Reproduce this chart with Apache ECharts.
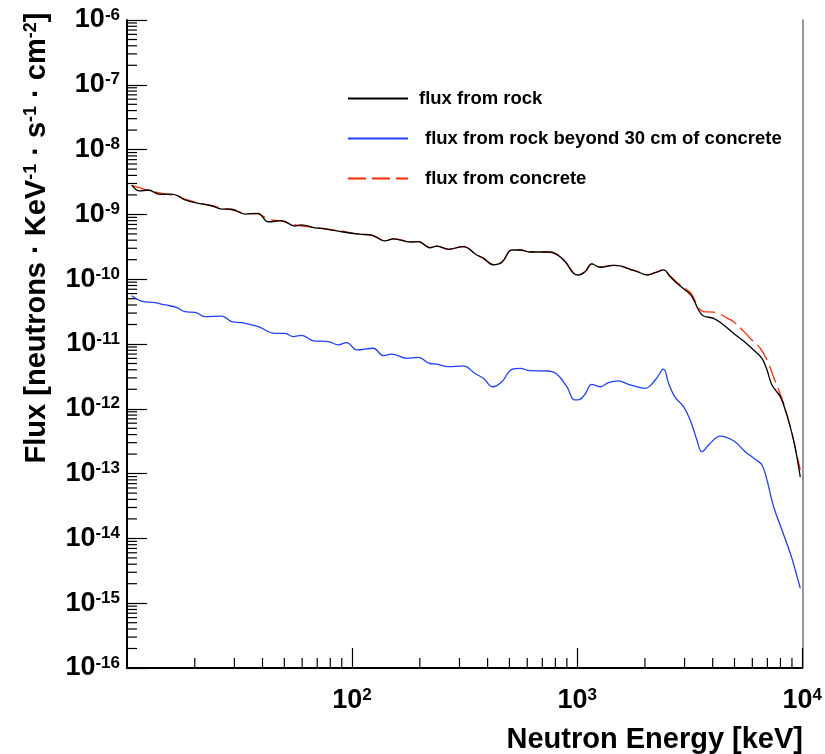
<!DOCTYPE html>
<html>
<head>
<meta charset="utf-8">
<script src="https://cdn.jsdelivr.net/npm/echarts@6/dist/echarts.min.js"></script>
<style>
  html, body { margin: 0; padding: 0; background: #fff; }
  #chart { width: 825px; height: 754px; }
</style>
</head>
<body>
<div id="chart"></div>
<script>
// [energy keV, flux]
const rockFlux = [
  [10.5, 2.84e-9], [11.4, 2.30e-9], [12.4, 2.38e-9], [14.0, 2.04e-9], [15.8, 2.06e-9],
  [16.9, 1.92e-9], [18.1, 1.67e-9], [20.8, 1.48e-9], [23.8, 1.36e-9], [26.4, 1.21e-9],
  [29.2, 1.20e-9], [33.5, 1.01e-9], [38.1, 1.04e-9], [42.5, 7.7e-10], [48.7, 8.0e-10],
  [55.8, 6.6e-10], [59.8, 6.9e-10], [68.5, 6.2e-10], [75.9, 6.0e-10], [90, 5.4e-10],
  [108, 4.95e-10], [122, 4.8e-10], [140, 3.9e-10], [153, 4.2e-10], [181, 3.75e-10],
  [197, 3.8e-10], [222, 3.06e-10], [238, 3.25e-10], [268, 2.89e-10], [312, 3.18e-10],
  [358, 2.36e-10], [383, 2.10e-10], [425, 1.66e-10], [463, 1.82e-10], [513, 2.82e-10],
  [558, 2.82e-10], [618, 2.63e-10], [745, 2.63e-10], [812, 2.42e-10], [885, 1.86e-10],
  [963, 1.23e-10], [1013, 1.16e-10], [1085, 1.31e-10], [1162, 1.72e-10], [1265, 1.53e-10],
  [1450, 1.64e-10], [1553, 1.60e-10], [1720, 1.42e-10], [1842, 1.32e-10], [2041, 1.17e-10],
  [2222, 1.26e-10], [2419, 1.39e-10], [2591, 1.09e-10], [2774, 8.65e-11], [3020, 6.8e-11],
  [3235, 5.4e-11], [3460, 3.35e-11], [3642, 2.71e-11], [4035, 2.49e-11], [4470, 1.97e-11],
  [4951, 1.46e-11], [5485, 1.11e-11], [6075, 8.1e-12], [6621, 6.0e-12], [6968, 4.0e-12],
  [7334, 2.33e-12], [7985, 1.54e-12], [8403, 9.6e-13], [9148, 3.3e-13], [9800, 8.8e-14]
]

const shieldedFlux = [
  [10.5, 5.56e-11], [11.6, 4.6e-11], [13.3, 4.34e-11], [14.8, 4.0e-11], [16.6, 3.68e-11],
  [18.1, 3.15e-11], [20.1, 3.08e-11], [22.2, 2.64e-11], [26.4, 2.70e-11], [29.2, 2.21e-11],
  [32.4, 2.13e-11], [38.3, 1.85e-11], [45.5, 1.46e-11], [50.4, 1.46e-11], [54.8, 1.30e-11],
  [59.8, 1.36e-11], [67.3, 1.12e-11], [78.5, 1.09e-11], [86.9, 9.7e-12], [94.7, 1.05e-11],
  [104.9, 8.1e-12], [124, 8.6e-12], [138, 6.6e-12], [150, 7.0e-12], [175, 6.0e-12],
  [197, 6.2e-12], [222, 5.0e-12], [238, 4.9e-12], [268, 4.46e-12], [312, 4.6e-12],
  [352, 3.5e-12], [383, 2.96e-12], [422, 2.19e-12], [463, 2.62e-12], [513, 4.07e-12],
  [558, 4.22e-12], [618, 3.87e-12], [745, 3.83e-12], [812, 3.44e-12], [900, 2.19e-12],
  [975, 1.37e-12], [1030, 1.40e-12], [1085, 1.69e-12], [1162, 2.39e-12], [1265, 2.19e-12],
  [1378, 2.53e-12], [1526, 2.69e-12], [1690, 2.39e-12], [2005, 2.07e-12], [2222, 2.78e-12],
  [2419, 4.1e-12], [2546, 2.48e-12], [2726, 1.50e-12], [2968, 1.08e-12], [3178, 6.7e-13],
  [3404, 3.3e-13], [3584, 2.18e-13], [3900, 2.94e-13], [4321, 3.8e-13], [4951, 3.22e-13],
  [5580, 2.18e-13], [6182, 1.66e-13], [6621, 1.36e-13], [6968, 8.0e-14], [7455, 3.1e-14],
  [8124, 1.35e-14], [8845, 5.9e-15], [9310, 3.25e-15], [9800, 1.7e-15]
]

const concreteFlux = [
  [10.5, 2.8e-9], [12.4, 2.35e-9], [14.5, 2.1e-9], [16.9, 1.9e-9], [18.1, 1.72e-9],
  [20.8, 1.5e-9], [23.8, 1.36e-9], [26.4, 1.24e-9], [29.2, 1.18e-9], [33.5, 1.04e-9],
  [38.1, 1.02e-9], [42.5, 8.4e-10], [48.7, 7.9e-10], [55.8, 6.9e-10], [68.5, 6.3e-10],
  [90, 5.5e-10], [108, 4.95e-10], [122, 4.8e-10], [140, 3.95e-10], [153, 4.2e-10],
  [181, 3.8e-10], [197, 3.8e-10], [222, 3.1e-10], [238, 3.25e-10], [268, 2.92e-10],
  [312, 3.18e-10], [358, 2.38e-10], [383, 2.12e-10], [425, 1.68e-10], [463, 1.82e-10],
  [513, 2.82e-10], [558, 2.82e-10], [618, 2.63e-10], [745, 2.63e-10], [812, 2.42e-10],
  [885, 1.88e-10], [963, 1.26e-10], [1013, 1.18e-10], [1085, 1.31e-10], [1162, 1.72e-10],
  [1265, 1.55e-10], [1450, 1.64e-10], [1553, 1.60e-10], [1720, 1.42e-10], [1842, 1.32e-10],
  [2041, 1.17e-10], [2222, 1.26e-10], [2419, 1.39e-10], [2591, 1.12e-10], [2774, 9.0e-11],
  [3020, 7.2e-11], [3235, 5.8e-11], [3460, 3.6e-11], [3642, 3.15e-11], [4035, 3.1e-11],
  [4300, 2.9e-11], [4548, 2.61e-11], [4951, 2.21e-11], [5485, 1.58e-11], [5976, 1.15e-11],
  [6506, 8.6e-12], [6968, 5.7e-12], [7455, 3.1e-12], [8259, 1.22e-12], [8845, 5.3e-13],
  [9800, 1.14e-13]
]

const seriesNames = ['flux from rock', 'flux from rock beyond 30 cm of concrete', 'flux from concrete']
const xMinorTicks = [20, 30, 40, 50, 60, 70, 80, 90, 200, 300, 400, 500, 600, 700, 800, 900,
  2000, 3000, 4000, 5000, 6000, 7000, 8000, 9000]
const yDecades = [-16, -15, -14, -13, -12, -11, -10, -9, -8, -7]
const yMinorMantissa = [2, 3, 4, 5, 6, 7, 8, 9]

const FONT = "'Liberation Sans', Arial, Helvetica, sans-serif"
const X_MIN = 10, X_MAX = 10000, Y_MIN = 1e-16, Y_MAX = 1e-6

const yMinorTicks = []
yDecades.forEach(d => yMinorMantissa.forEach(m => yMinorTicks.push(m * Math.pow(10, d))))

const powLabel = v => '{b|10}{s|' + Math.round(Math.log10(v)) + '}'
const powRich = {
  b: { fontSize: 27, fontWeight: 'bold', fontFamily: FONT, color: '#000', verticalAlign: 'bottom' },
  s: { fontSize: 17, fontWeight: 'bold', fontFamily: FONT, color: '#000', verticalAlign: 'top' },
}

const tickLine = (horizontal) => (params, api) => {
  const p = api.coord([api.value(0), api.value(1)])
  return {
    type: 'line',
    shape: horizontal
      ? { x1: p[0], y1: p[1], x2: p[0] + 10, y2: p[1] }
      : { x1: p[0], y1: p[1], x2: p[0], y2: p[1] - 10 },
    style: { stroke: '#000', lineWidth: 1.2 },
  }
}

const chart = echarts.init(document.getElementById('chart'), null, { renderer: 'canvas' })

chart.setOption({
  animation: false,
  backgroundColor: '#fff',
  grid: { left: 127, right: 21, top: 20, bottom: 86 },
  legend: {
    orient: 'vertical',
    left: 342,
    top: 84,
    itemWidth: 60,
    itemHeight: 14,
    itemGap: 21,
    itemStyle: { opacity: 0 },
    textStyle: { fontSize: 18.5, fontWeight: 'bold', fontFamily: FONT, color: '#000' },
    data: [
      { name: seriesNames[0], textStyle: { padding: [0, 0, 0, 6] } },
      { name: seriesNames[1], textStyle: { padding: [0, 0, 0, 12] } },
      { name: seriesNames[2], textStyle: { padding: [0, 0, 0, 12] } },
    ],
  },
  xAxis: {
    type: 'log',
    logBase: 10,
    min: X_MIN,
    max: X_MAX,
    axisLine: { lineStyle: { color: '#000', width: 2 } },
    axisTick: { inside: true, length: 20, lineStyle: { color: '#000', width: 1.2 } },
    axisLabel: { margin: 19, showMinLabel: false, formatter: powLabel, rich: powRich },
    splitLine: { show: false },
  },
  yAxis: [
    {
      type: 'log',
      logBase: 10,
      min: Y_MIN,
      max: Y_MAX,
      interval: 1,
      splitNumber: 10,
      axisLine: { lineStyle: { color: '#000', width: 2 } },
      axisTick: { inside: true, length: 20, interval: 0, lineStyle: { color: '#000', width: 1.2 } },
      axisLabel: { margin: 7, interval: 0, formatter: powLabel, rich: powRich },
      splitLine: { show: false },
    },
    {
      type: 'log',
      logBase: 10,
      min: Y_MIN,
      max: Y_MAX,
      position: 'right',
      axisLine: { show: true, lineStyle: { color: '#777', width: 1.5 } },
      axisTick: { show: false },
      axisLabel: { show: false },
      splitLine: { show: false },
    },
  ],
  graphic: [
    {
      type: 'text',
      x: 37,
      y: 238,
      rotation: Math.PI / 2,
      style: {
        text: '{n|Flux [neutrons · KeV}{s|-1}{n| · s}{s|-1}{n| · cm}{s|-2}{n|]}',
        align: 'center',
        verticalAlign: 'middle',
        rich: {
          n: { fontSize: 29, fontWeight: 'bold', fontFamily: FONT, fill: '#000', verticalAlign: 'bottom' },
          s: { fontSize: 18, fontWeight: 'bold', fontFamily: FONT, fill: '#000', verticalAlign: 'top' },
        },
      },
    },
    {
      type: 'text',
      right: 22,
      top: 725,
      style: {
        text: 'Neutron Energy [keV]',
        fontSize: 29,
        fontWeight: 'bold',
        fontFamily: FONT,
        fill: '#000',
      },
    },
  ],
  series: [
    {
      name: seriesNames[0],
      type: 'line',
      data: rockFlux,
      symbol: 'none',
      smooth: 0.4,
      lineStyle: { color: '#000', width: 1.3 },
      itemStyle: { color: '#000' },
      z: 4,
    },
    {
      name: seriesNames[1],
      type: 'line',
      data: shieldedFlux,
      symbol: 'none',
      smooth: 0.4,
      lineStyle: { color: '#2040ff', width: 1.3 },
      itemStyle: { color: '#2040ff' },
    },
    {
      name: seriesNames[2],
      type: 'line',
      data: concreteFlux,
      symbol: 'none',
      smooth: 0.4,
      lineStyle: { color: '#ff2a00', width: 1.3, type: [18, 6] },
      itemStyle: { color: '#ff2a00' },
      z: 3,
    },
    {
      type: 'custom',
      silent: true,
      clip: false,
      data: xMinorTicks.map(v => [v, Y_MIN]),
      renderItem: tickLine(false),
    },
    {
      type: 'custom',
      silent: true,
      clip: false,
      data: yMinorTicks.map(v => [X_MIN, v]),
      renderItem: tickLine(true),
    },
  ],
})
</script>
</body>
</html>
